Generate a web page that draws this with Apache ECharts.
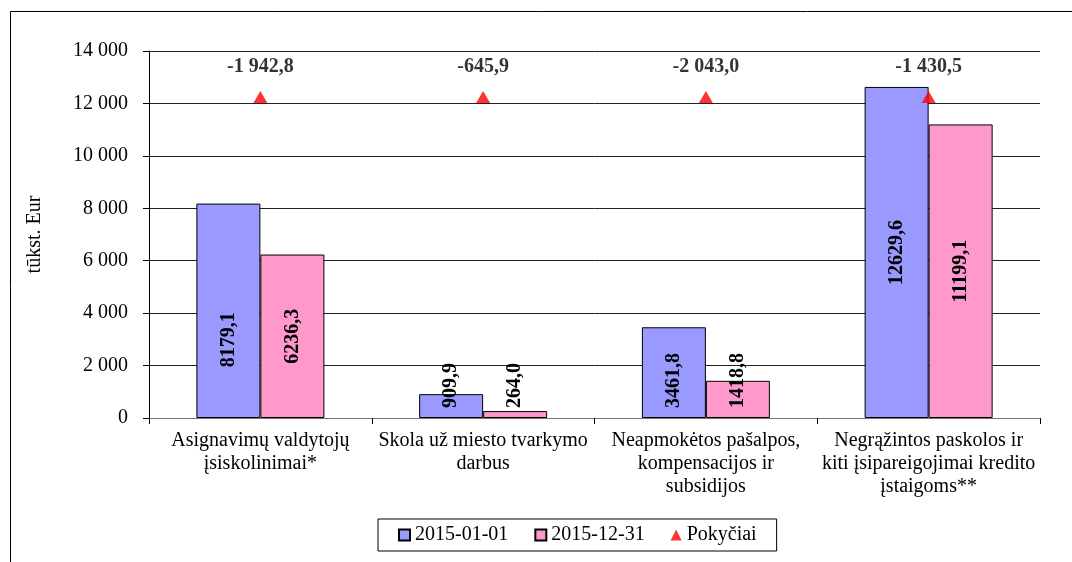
<!DOCTYPE html>
<html>
<head>
<meta charset="utf-8">
<script src="https://cdn.jsdelivr.net/npm/echarts@6/dist/echarts.min.js"></script>
<style>
  html, body {margin: 0; padding: 0; background: #fff;}
  #chart {width: 1072px; height: 562px;}
</style>
</head>
<body>
<div id="chart"></div>
<script>
const categories = [
  'Asignavimų valdytojų\nįsiskolinimai*',
  'Skola už miesto tvarkymo\ndarbus',
  'Neapmokėtos pašalpos,\nkompensacijos ir\nsubsidijos',
  'Negrąžintos paskolos ir\nkiti įsipareigojimai kredito\nįstaigoms**'
]
const seriesNames = ['2015-01-01', '2015-12-31', 'Pokyčiai']
const start2015 = [8179.1, 909.9, 3461.8, 12629.6]
const end2015 = [6236.3, 264.0, 1418.8, 11199.1]
const changes = [-1942.8, -645.9, -2043.0, -1430.5]
// triangles sit on one level, the label shows the change
const markerLevel = 12250
const yTicks = [0, 2000, 4000, 6000, 8000, 10000, 12000, 14000]

const font = '"Liberation Serif", "DejaVu Serif", serif'

const fmtSpace = (v) => {
  const neg = v < 0
  const [i, d] = Math.abs(v).toFixed(1).split('.')
  const intPart = i.replace(/\B(?=(\d{3})+(?!\d))/g, ' ')
  return (neg ? '-' : '') + intPart + ',' + d
}
const fmtPlain = (v) => v.toFixed(1).replace('.', ',')

// small bars: the label starts near the base and runs upward
const barLabel = (v) => {
  const base = {
    show: true, rotate: 90, color: '#000', fontFamily: font,
    fontSize: 20, fontWeight: 'bold', formatter: (p) => fmtPlain(p.value)
  }
  if (v < 4000) {
    return {...base, position: 'insideBottom', distance: 10, align: 'left', verticalAlign: 'middle'}
  }
  return {...base, position: 'inside', align: 'center', verticalAlign: 'middle'}
}

const chart = echarts.init(document.getElementById('chart'))

chart.setOption({
  backgroundColor: '#fff',
  animation: false,
  graphic: [{
    type: 'rect',
    shape: {x: 10.5, y: 11.5, width: 1200, height: 700},
    style: {fill: 'none', stroke: '#000', lineWidth: 1},
    silent: true
  }],
  grid: {left: 149, right: 32, top: 51, bottom: 144},
  legend: {
    data: [
      {name: seriesNames[0], icon: 'rect'},
      {name: seriesNames[1], icon: 'rect'},
      {name: seriesNames[2], icon: 'triangle'}
    ],
    left: 378,
    top: 519,
    padding: [6, 20, 6, 20],
    borderColor: '#000',
    borderWidth: 1,
    itemWidth: 11,
    itemHeight: 11,
    itemGap: 26,
    textStyle: {fontFamily: font, fontSize: 20, color: '#000'}
  },
  xAxis: {
    type: 'category',
    data: categories,
    axisLine: {lineStyle: {color: '#777'}},
    axisTick: {show: true, length: 6, lineStyle: {color: '#000'}},
    axisLabel: {
      interval: 0, color: '#000', fontFamily: font, fontSize: 20,
      lineHeight: 23, margin: 11, align: 'center'
    }
  },
  yAxis: {
    type: 'value',
    min: 0,
    max: 14000,
    interval: 2000,
    name: 'tūkst. Eur',
    nameLocation: 'middle',
    nameGap: 104,
    nameTextStyle: {fontFamily: font, fontSize: 20, color: '#000'},
    axisLine: {show: true, lineStyle: {color: '#000'}},
    axisTick: {show: true, length: 6, inside: false, lineStyle: {color: '#000'}},
    axisLabel: {
      color: '#000', fontFamily: font, fontSize: 20, margin: 21,
      formatter: (v) => yTicks.includes(v) ? String(v).replace(/\B(?=(\d{3})+(?!\d))/g, ' ') : ''
    },
    splitLine: {lineStyle: {color: '#222', width: 1}}
  },
  series: [
    {
      name: seriesNames[0],
      type: 'bar',
      barWidth: 64,
      barGap: '0%',
      itemStyle: {color: '#9999ff', borderColor: '#000', borderWidth: 1},
      data: start2015.map((v, i) => ({
        value: v,
        label: i === 0 ? {...barLabel(v), offset: [-29, 0]} : barLabel(v)
      }))
    },
    {
      name: seriesNames[1],
      type: 'bar',
      barWidth: 64,
      barGap: '0%',
      itemStyle: {color: '#ff99cc', borderColor: '#000', borderWidth: 1},
      data: end2015.map((v) => ({value: v, label: barLabel(v)}))
    },
    {
      name: seriesNames[2],
      type: 'scatter',
      symbol: 'triangle',
      symbolSize: [14, 12],
      itemStyle: {color: '#ff0000'},
      data: changes.map(() => markerLevel),
      label: {
        show: true,
        position: 'top',
        distance: 14,
        color: '#000',
        fontFamily: font,
        fontSize: 20,
        fontWeight: 'bold',
        formatter: (p) => fmtSpace(changes[p.dataIndex])
      },
      z: 5
    }
  ]
})
</script>
</body>
</html>
